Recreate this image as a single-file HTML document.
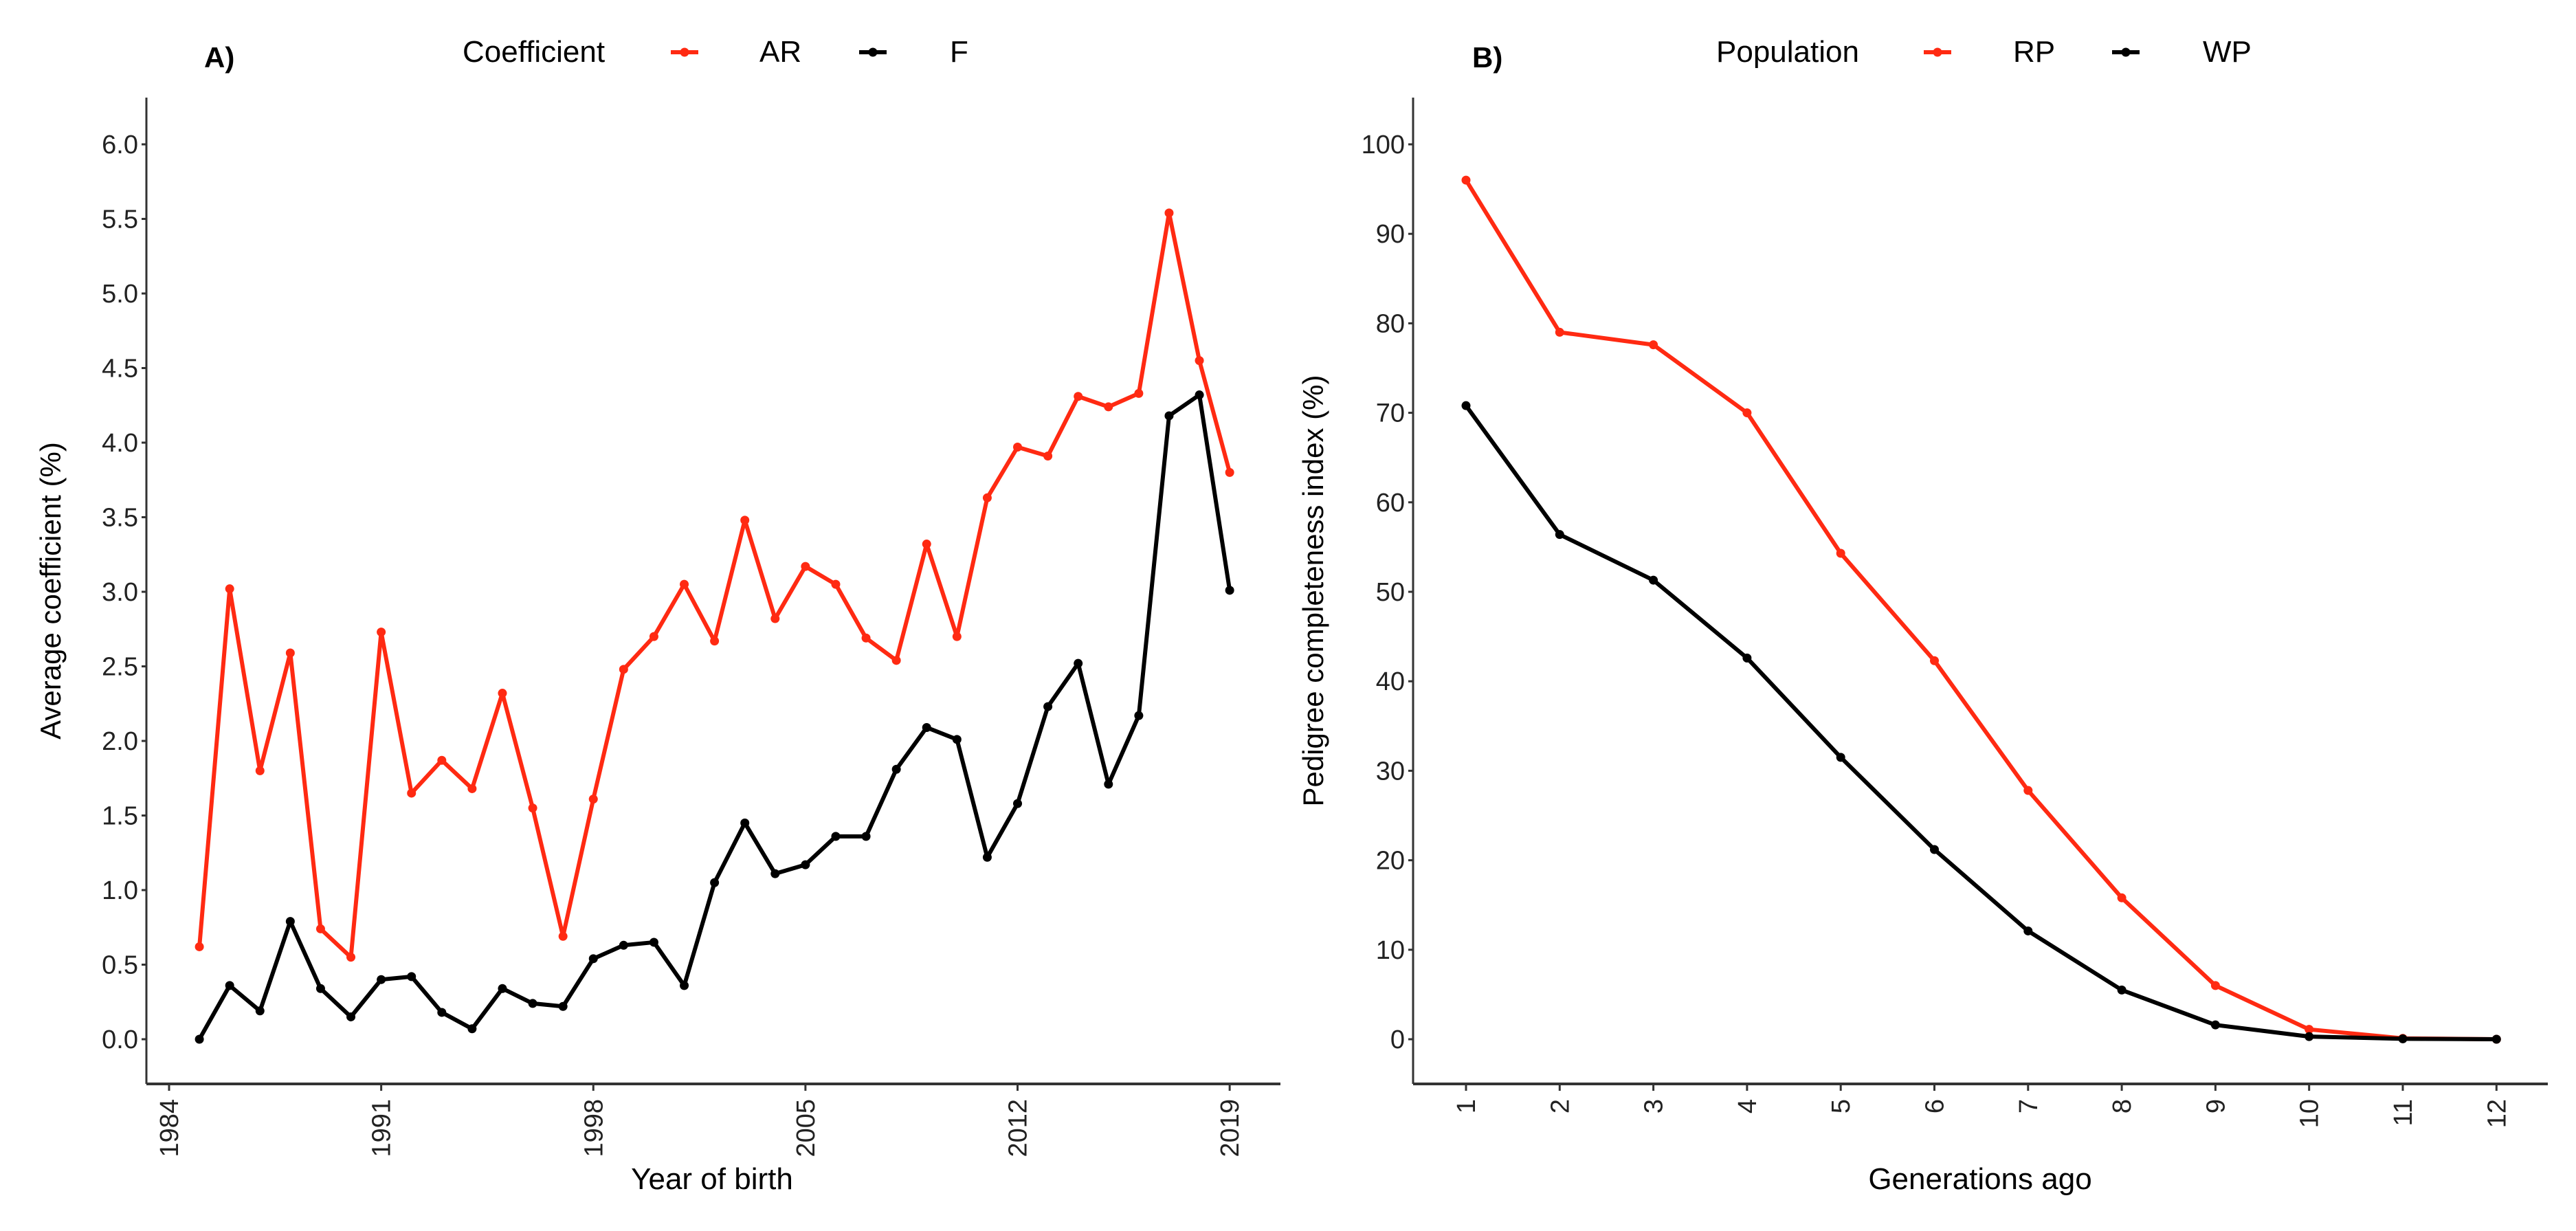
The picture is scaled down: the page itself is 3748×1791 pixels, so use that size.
<!DOCTYPE html>
<html><head><meta charset="utf-8"><style>
html,body{margin:0;padding:0;background:#fff}
svg{display:block}
.tk{font-family:"Liberation Sans Narrow","Liberation Sans",sans-serif;font-size:38px;fill:#222}
.tt{font-family:"Liberation Sans",sans-serif;font-size:42px;fill:#000}
.lg{font-family:"Liberation Sans Narrow","Liberation Sans",sans-serif;font-size:44px;fill:#000}
</style></head><body>
<svg id="chart" width="3748" height="1791" viewBox="0 0 3748 1791" xmlns="http://www.w3.org/2000/svg">
<g id="pa"></g>
<g id="pb"></g>
</svg>
<script>
const years = [1985,1986,1987,1988,1989,1990,1991,1992,1993,1994,1995,1996,1997,1998,1999,2000,2001,2002,2003,2004,2005,2006,2007,2008,2009,2010,2011,2012,2013,2014,2015,2016,2017,2018,2019];
const arValues = [0.62,3.02,1.80,2.59,0.74,0.55,2.73,1.65,1.87,1.68,2.32,1.55,0.69,1.61,2.48,2.70,3.05,2.67,3.48,2.82,3.17,3.05,2.69,2.54,3.32,2.70,3.63,3.97,3.91,4.31,4.24,4.33,5.54,4.55,3.80];
const fValues = [0.00,0.36,0.19,0.79,0.34,0.15,0.40,0.42,0.18,0.07,0.34,0.24,0.22,0.54,0.63,0.65,0.36,1.05,1.45,1.11,1.17,1.36,1.36,1.81,2.09,2.01,1.22,1.58,2.23,2.52,1.71,2.17,4.18,4.32,3.01];
const yearTicks = [1984,1991,1998,2005,2012,2019];
const coefTicks = [0.0,0.5,1.0,1.5,2.0,2.5,3.0,3.5,4.0,4.5,5.0,5.5,6.0];
const generations = [1,2,3,4,5,6,7,8,9,10,11,12];
const rpValues = [96.0,79.0,77.6,70.0,54.3,42.3,27.8,15.8,6.0,1.1,0.1,0.0];
const wpValues = [70.8,56.4,51.3,42.6,31.5,21.2,12.1,5.5,1.6,0.3,0.05,0.0];
const pctTicks = [0,10,20,30,40,50,60,70,80,90,100];

const NS="http://www.w3.org/2000/svg";
function mk(parent,tag,attrs,text){const e=document.createElementNS(NS,tag);for(const k in attrs)e.setAttribute(k,attrs[k]);if(text!==undefined)e.textContent=text;parent.appendChild(e);return e;}
const RED="#ff2a12";

function panel(g,o){
  const xs=v=>o.x0+(v-o.xd0)*o.xk;
  const ys=v=>o.y0-(v-o.yd0)*o.yk;
  let e;
  e=mk(g,'line',{x1:o.axX,y1:142,x2:o.axX,y2:o.axY,stroke:'#333','stroke-width':3});
  
  
  e=mk(g,'line',{x1:o.axX,y1:o.axY,x2:o.axEnd,y2:o.axY,stroke:'#333','stroke-width':4});
  
  
  o.yt.forEach(t=>{
    const y=ys(t);
    e=mk(g,'line',{x1:o.axX-7,y1:y,x2:o.axX,y2:y,stroke:'#333','stroke-width':3});
    
    
    e=mk(g,'text',{x:o.axX-12,y:y+13,'text-anchor':'end',class:'tk'},o.fmt(t));
    
    
  });
  o.xt.forEach(t=>{
    const x=xs(t);
    e=mk(g,'line',{x1:x,y1:o.axY,x2:x,y2:o.axY+10,stroke:'#333','stroke-width':3});
    
    
    e=mk(g,'text',{x:0,y:0,'text-anchor':'end',class:'tk',transform:`translate(${x+13},${o.axY+22}) rotate(-90)`},String(t));
    
    
  });
  e=mk(g,'text',{x:o.xtX,y:1730,'text-anchor':'middle',class:'lg'},o.xTitle);
  
  
  const my=(142+o.axY)/2;
  e=mk(g,'text',{x:0,y:0,'text-anchor':'middle',class:'tt',transform:`translate(${o.ytX},${my}) rotate(-90)`},o.yTitle);
  
  
  o.series.forEach(s=>{
    const pts=o.xv.map((v,i)=>xs(v)+','+ys(s.vals[i])).join(' ');
    e=mk(g,'polyline',{points:pts,fill:'none',stroke:s.c,'stroke-width':6,'stroke-linejoin':'round'});
    
    
    o.xv.forEach((v,i)=>{
      e=mk(g,'circle',{cx:xs(v),cy:ys(s.vals[i]),r:6.5,fill:s.c});
      
      
    });
  });
  e=mk(g,'text',{x:o.tagX,y:98,class:'tt','font-weight':'bold','font-size':'62'},o.tag);
  
  
  e=mk(g,'text',{x:o.lgX,y:90,class:'lg'},o.lgTitle);
  
  
  o.series.forEach(s=>{
    e=mk(g,'line',{x1:s.kx-20,y1:76,x2:s.kx+20,y2:76,stroke:s.c,'stroke-width':6});
    
    
    mk(g,'circle',{cx:s.kx,cy:76,r:6.5,fill:s.c});
    e=mk(g,'text',{x:s.lx,y:90,class:'lg'},s.label);
    
    
  });
}

panel(document.getElementById('pa'),{
  x0:246,xd0:1984,xk:44.09,y0:1512,yd0:0,yk:217,axX:213,axY:1577,axEnd:1863,
  xt:yearTicks,yt:coefTicks,xv:years,fmt:t=>t.toFixed(1),
  xTitle:'Year of birth',xtX:1036,yTitle:'Average coefficient (%)',ytX:88,
  tag:'A)',tagX:297,lgTitle:'Coefficient',lgX:673,
  series:[{name:'ar',label:'AR',vals:arValues,c:RED,kx:996,lx:1105},{name:'f',label:'F',vals:fValues,c:'#000',kx:1270,lx:1382}]
});
panel(document.getElementById('pb'),{
  x0:2133,xd0:1,xk:136.3,y0:1512,yd0:0,yk:13.02,axX:2056,axY:1577,axEnd:3707,
  xt:generations,yt:pctTicks,xv:generations,fmt:t=>String(t),
  xTitle:'Generations ago',xtX:2881,yTitle:'Pedigree completeness index (%)',ytX:1925,
  tag:'B)',tagX:2142,lgTitle:'Population',lgX:2497,
  series:[{name:'rp',label:'RP',vals:rpValues,c:RED,kx:2819,lx:2929},{name:'wp',label:'WP',vals:wpValues,c:'#000',kx:3093,lx:3205}]
});
</script>
</body></html>
